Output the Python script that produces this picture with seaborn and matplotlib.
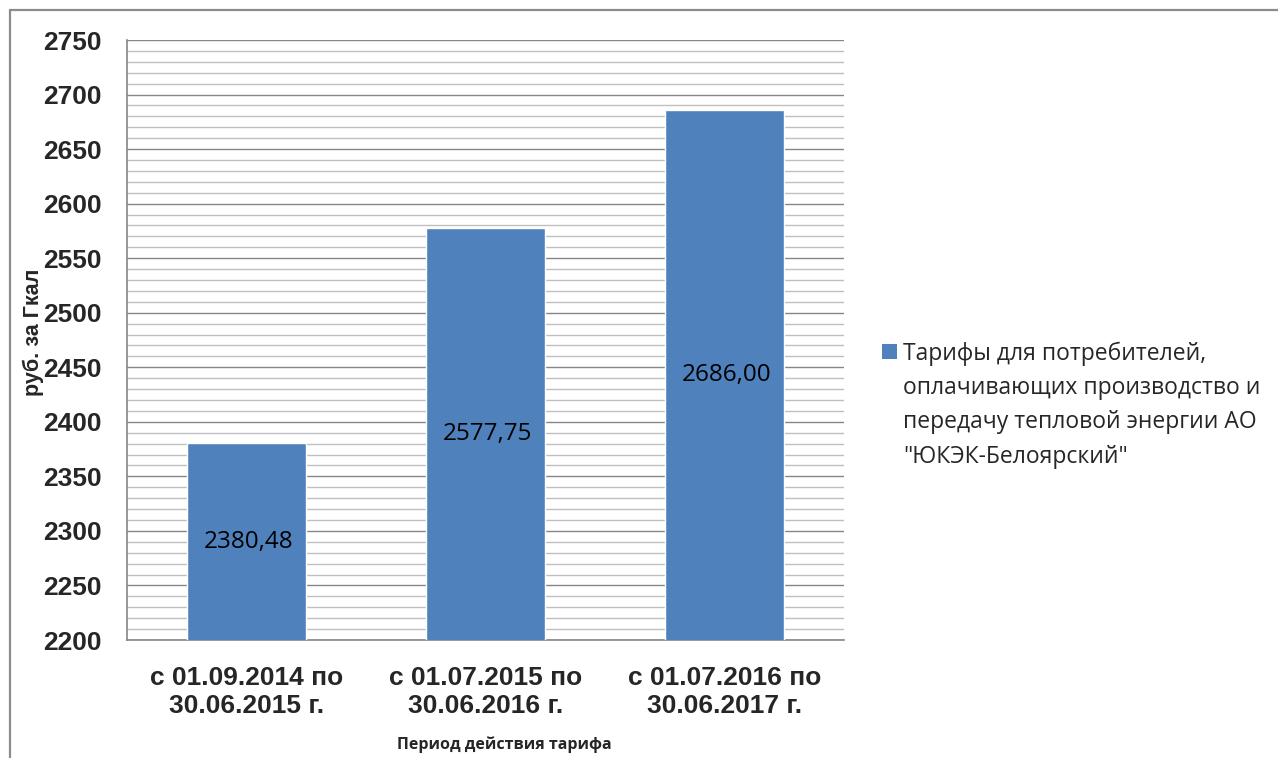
import matplotlib
matplotlib.use("Agg")
import matplotlib.pyplot as plt
import matplotlib.patches as mpatches
from matplotlib.legend_handler import HandlerPatch
from matplotlib.ticker import MultipleLocator
import seaborn as sns
import pandas as pd

# data
periods = ["с 01.09.2014 по\n30.06.2015 г.",
           "с 01.07.2015 по\n30.06.2016 г.",
           "с 01.07.2016 по\n30.06.2017 г."]
tariffs = [2380.48, 2577.75, 2686.00]
series_name = ("Тарифы для потребителей,\nоплачивающих производство и\n"
               "передачу тепловой энергии АО\n\"ЮКЭК-Белоярский\"")

bar_color = "#4F81BD"

sns.set_style("white")
plt.rcParams["font.family"] = ["Liberation Sans", "DejaVu Sans"]

df = pd.DataFrame({"period": periods, "tariff": tariffs})

fig = plt.figure(figsize=(12.78, 7.58), dpi=100)
W, H = 1278, 758
ax = fig.add_axes([127 / W, (H - 640) / H, (844 - 127) / W, 600 / H])

# outer chart frame (only top and left visible in the reference)
fig.add_artist(plt.Line2D([10 / W, 10 / W], [0, 1 - 10 / H], transform=fig.transFigure,
                          color="#8C8C8C", lw=1.6))
fig.add_artist(plt.Line2D([10 / W, 1], [1 - 10 / H, 1 - 10 / H], transform=fig.transFigure,
                          color="#8C8C8C", lw=1.6))

sns.barplot(data=df, x="period", y="tariff", color=bar_color, width=0.5,
            saturation=1, ax=ax, zorder=3)

ax.set_ylim(2200, 2750)
ax.yaxis.set_major_locator(MultipleLocator(50))
ax.yaxis.set_minor_locator(MultipleLocator(10))
ax.grid(axis="y", which="major", color="#868686", lw=1.0, zorder=0)
ax.grid(axis="y", which="minor", color="#BFBFBF", lw=1.0, zorder=0)
ax.set_axisbelow(True)

for s in ["top", "right"]:
    ax.spines[s].set_visible(False)
for s in ["left", "bottom"]:
    ax.spines[s].set_color("#868686")
    ax.spines[s].set_linewidth(1.2)

ax.tick_params(axis="y", which="major", length=6.5, width=1.2, color="#868686",
               labelsize=19, pad=12)
ax.tick_params(axis="y", which="minor", length=0)
ax.tick_params(axis="x", length=0, labelsize=19, pad=19)
for lbl in ax.get_yticklabels() + ax.get_xticklabels():
    lbl.set_fontweight("bold")
for lbl in ax.get_xticklabels():
    lbl.set_linespacing(1.2)

for p, v in zip(ax.patches, tariffs):
    y_mid = (2200 + v) / 2
    ax.text(p.get_x() + p.get_width() / 2 + 0.01, y_mid, f"{v:.2f}".replace(".", ","),
            ha="center", va="center", fontsize=17.5, color="#000000",
            family=["Open Sans", "DejaVu Sans"], zorder=4)

ax.set_xlabel("Период действия тарифа", fontsize=11.5, fontweight="bold",
              family=["Open Sans", "DejaVu Sans"])
ax.set_ylabel("руб. за Гкал", fontsize=15.5, fontweight="bold")
ax.yaxis.set_label_coords(33 / W, 1 - 332 / H, transform=fig.transFigure)
ax.xaxis.set_label_coords(504 / W, 1 - 745 / H, transform=fig.transFigure)
ax.xaxis.label.set_va("center")
ax.yaxis.label.set_va("center")


class TopSquare(HandlerPatch):
    # legend square aligned with the first text line, as in the reference
    def create_artists(self, legend, orig_handle, xdescent, ydescent, width, height,
                       fontsize, trans):
        size = 0.65 * fontsize
        rect = mpatches.Rectangle((-xdescent + width - size, -ydescent + height + 0.96 * fontsize - size),
                                  size, size, facecolor=bar_color, edgecolor="none",
                                  transform=trans)
        return [rect]


handle = mpatches.Patch(color=bar_color, label=series_name)
leg = fig.legend(handles=[handle], loc="upper left", bbox_to_anchor=(863 / W, 1 - 330 / H),
                 frameon=False, handlelength=1.0, handleheight=5.4, handletextpad=0.25,
                 borderpad=0, handler_map={mpatches.Patch: TopSquare()},
                 prop={"family": ["Open Sans", "DejaVu Sans"], "size": 16.5})
leg.get_texts()[0].set_linespacing(1.57)

fig.savefig("out.png", dpi=100)
